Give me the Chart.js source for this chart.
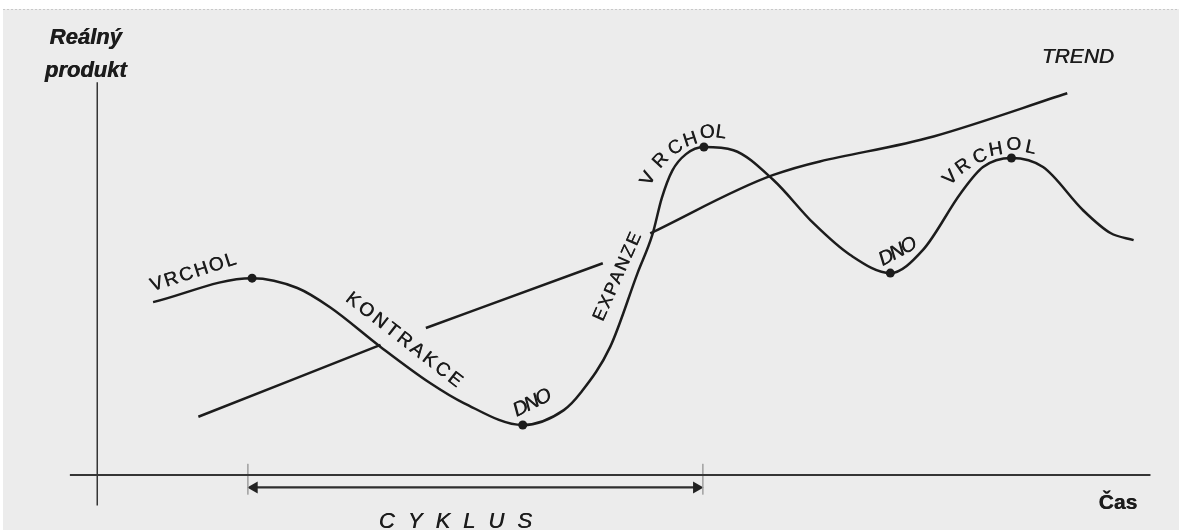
<!DOCTYPE html>
<html>
<head>
<meta charset="utf-8">
<script src="https://cdn.jsdelivr.net/npm/chart.js@4"></script>
<style>
  html, body { margin: 0; padding: 0; background: #ffffff; }
  canvas { display: block; }
</style>
</head>
<body>
<canvas id="cyklus" width="1179" height="530"></canvas>
<script>
// hospodářský cyklus (čas / reálný produkt)
const cycleTime   = [5.3, 14.7, 19.0, 22.1, 26.9, 31.6, 34.8, 40.4, 44.3, 45.9, 48.7, 51.3, 52.7, 53.6, 54.6, 55.9, 57.6, 60.4, 64.2, 68.0, 71.5, 75.3, 78.4, 82.0, 84.1, 86.8, 89.8, 93.6, 96.2, 98.4];
const cycleOutput = [44.0, 50.1, 47.6, 42.7, 32.6, 23.4, 18.3, 12.7, 16.5, 20.9, 32.6, 51.4, 61.1, 70.5, 77.5, 81.7, 83.5, 82.7, 75.1, 64.1, 56.0, 51.4, 57.3, 71.8, 78.4, 80.7, 78.4, 67.4, 61.6, 59.8];
// body obratu: VRCHOL, DNO, VRCHOL, DNO, VRCHOL
const turningPoints = [1, 7, 16, 21, 25];

// trend (null = přerušení čáry)
const trendTime   = [9.6, 26.9, 29.0, 31.2, 48.0, 50.0, 52.5, 64.2, 79.4, 92.1];
const trendOutput = [14.8, 33.1, null, 37.4, 53.9, null, 61.5, 76.4, 86.2, 97.2];

// osy a vyznačení délky cyklu
const axisX = [-2.6, 100.0];
const axisY = [-7.8, 100.0];
const cycleTicks = [14.3, 57.5];
const cycleArrow = [14.9, 56.9];
const cycleSpanLevel = -3.2;

const ink = '#1c1c1c';
const fontFamily = '"Liberation Sans", Arial, Helvetica, sans-serif';

const textLabels = [
    { text: 'VRCHOL', x: 9.1, y: 51.5, rot: -18, font: '19px', spacing: 2 },
    { text: 'KONTRAKCE', x: 29.1, y: 34.4, rot: 38, font: '19px', spacing: 3 },
    { text: 'DNO', x: 41.3, y: 18.3, rot: -26, font: 'italic 20px', spacing: -2 },
    { text: 'EXPANZE', x: 49.4, y: 50.4, rot: -66, font: '18px', spacing: 2 },
    { text: 'DNO', x: 76.0, y: 56.8, rot: -28, font: 'italic 20px', spacing: -2 },
    { text: 'TREND', x: 93.1, y: 106.5, rot: 0, font: 'italic 21px', spacing: 0 },
    { text: 'Reálný', x: -1.1, y: 111.3, rot: 0, font: 'italic bold 22px', spacing: 0 },
    { text: 'produkt', x: -1.1, y: 103.0, rot: 0, font: 'italic bold 22px', spacing: 0 },
    { text: 'Čas', x: 96.9, y: -7.1, rot: 0, font: 'bold 21px', spacing: 0 },
    { text: 'CYKLUS', x: 34.0, y: -12.0, rot: 0, font: 'italic 22px', spacing: 13 }
];

// písmena oblouků "VRCHOL" nad vrcholy
const arcLabels = [
    { letters: 'VRCHOL', pos: [[52.3, 75.4, -62], [53.5, 80.0, -47], [54.9, 83.3, -32], [56.3, 85.3, -18], [57.9, 87.2, -5], [59.2, 87.2, 8]] },
    { letters: 'VRCHOL', pos: [[81.0, 75.6, -45], [82.2, 78.5, -35], [83.8, 81.0, -22], [85.3, 82.8, -10], [87.0, 84.1, 0], [88.6, 83.3, 12]] }
];

function pairs(xs, ys) {
    return xs.map((x, i) => ({ x: x, y: ys[i] }));
}

const paperPlugin = {
    id: 'paper',
    beforeDraw(chart) {
        const ctx = chart.ctx;
        ctx.save();
        ctx.fillStyle = '#ffffff';
        ctx.fillRect(0, 0, chart.width, chart.height);
        ctx.fillStyle = '#ececec';
        ctx.fillRect(3, 9, chart.width - 3, chart.height - 9);
        ctx.strokeStyle = '#c8c8c8';
        ctx.setLineDash([2, 2]);
        ctx.lineWidth = 1;
        ctx.beginPath();
        ctx.moveTo(3, 9.5);
        ctx.lineTo(chart.width, 9.5);
        ctx.stroke();
        ctx.restore();
    }
};

// trochu tučnější písmo jako v tisku
function inkText(ctx, text, x, y) {
    ctx.fillText(text, x, y);
    ctx.fillText(text, x + 0.5, y);
}

const labelPlugin = {
    id: 'labels',
    afterDatasetsDraw(chart) {
        const ctx = chart.ctx;
        const sx = chart.scales.x;
        const sy = chart.scales.y;
        ctx.save();
        ctx.fillStyle = ink;
        ctx.textAlign = 'center';
        ctx.textBaseline = 'middle';
        textLabels.forEach(l => {
            ctx.save();
            ctx.translate(sx.getPixelForValue(l.x), sy.getPixelForValue(l.y));
            ctx.rotate(l.rot * Math.PI / 180);
            ctx.font = l.font + ' ' + fontFamily;
            ctx.letterSpacing = l.spacing + 'px';
            // posun kvůli mezeře za posledním písmenem
            inkText(ctx, l.text, l.spacing / 2, 0);
            ctx.restore();
        });
        arcLabels.forEach(a => {
            a.pos.forEach((p, i) => {
                ctx.save();
                ctx.translate(sx.getPixelForValue(p[0]), sy.getPixelForValue(p[1]));
                ctx.rotate(p[2] * Math.PI / 180);
                ctx.font = '19px ' + fontFamily;
                inkText(ctx, a.letters[i], 0, 0);
                ctx.restore();
            });
        });
        ctx.restore();
    }
};

new Chart(document.getElementById('cyklus'), {
    type: 'scatter',
    data: {
        datasets: [
            {
                label: 'Hospodářský cyklus',
                data: pairs(cycleTime, cycleOutput),
                showLine: true,
                borderColor: ink,
                borderWidth: 2.5,
                cubicInterpolationMode: 'monotone',
                pointRadius: ctx => turningPoints.includes(ctx.dataIndex) ? 4.5 : 0,
                pointBackgroundColor: ink,
                pointBorderWidth: 0
            },
            {
                label: 'Trend',
                data: pairs(trendTime, trendOutput),
                showLine: true,
                spanGaps: false,
                borderColor: ink,
                borderWidth: 2.5,
                cubicInterpolationMode: 'monotone',
                pointRadius: 0
            },
            {
                label: 'osa x',
                data: pairs(axisX, [0, 0]),
                showLine: true,
                borderColor: '#353535',
                borderWidth: 2,
                pointRadius: 0
            },
            {
                label: 'osa y',
                data: pairs([0, 0], axisY),
                showLine: true,
                borderColor: '#353535',
                borderWidth: 1.5,
                pointRadius: 0
            },
            {
                label: 'značky cyklu',
                data: [
                    { x: cycleTicks[0], y: 2.8 }, { x: cycleTicks[0], y: -5.0 },
                    { x: cycleTicks[0], y: null },
                    { x: cycleTicks[1], y: 2.8 }, { x: cycleTicks[1], y: -5.0 }
                ],
                showLine: true,
                borderColor: '#a0a0a0',
                borderWidth: 0.8,
                pointRadius: 0
            },
            {
                label: 'cyklus',
                data: pairs(cycleArrow, [cycleSpanLevel, cycleSpanLevel]),
                showLine: true,
                borderColor: '#2e2e2e',
                borderWidth: 2.2,
                pointStyle: 'triangle',
                pointRotation: [-90, 90],
                pointRadius: 7,
                pointBackgroundColor: '#222222',
                pointBorderWidth: 0
            }
        ]
    },
    options: {
        responsive: false,
        animation: false,
        layout: { padding: { left: 13, right: 18, top: 43, bottom: 8 } },
        scales: {
            x: { type: 'linear', min: -8, max: 101, display: false },
            y: { type: 'linear', min: -12, max: 110, display: false }
        },
        plugins: {
            legend: { display: false },
            tooltip: { enabled: false }
        }
    },
    plugins: [paperPlugin, labelPlugin]
});
</script>
</body>
</html>
